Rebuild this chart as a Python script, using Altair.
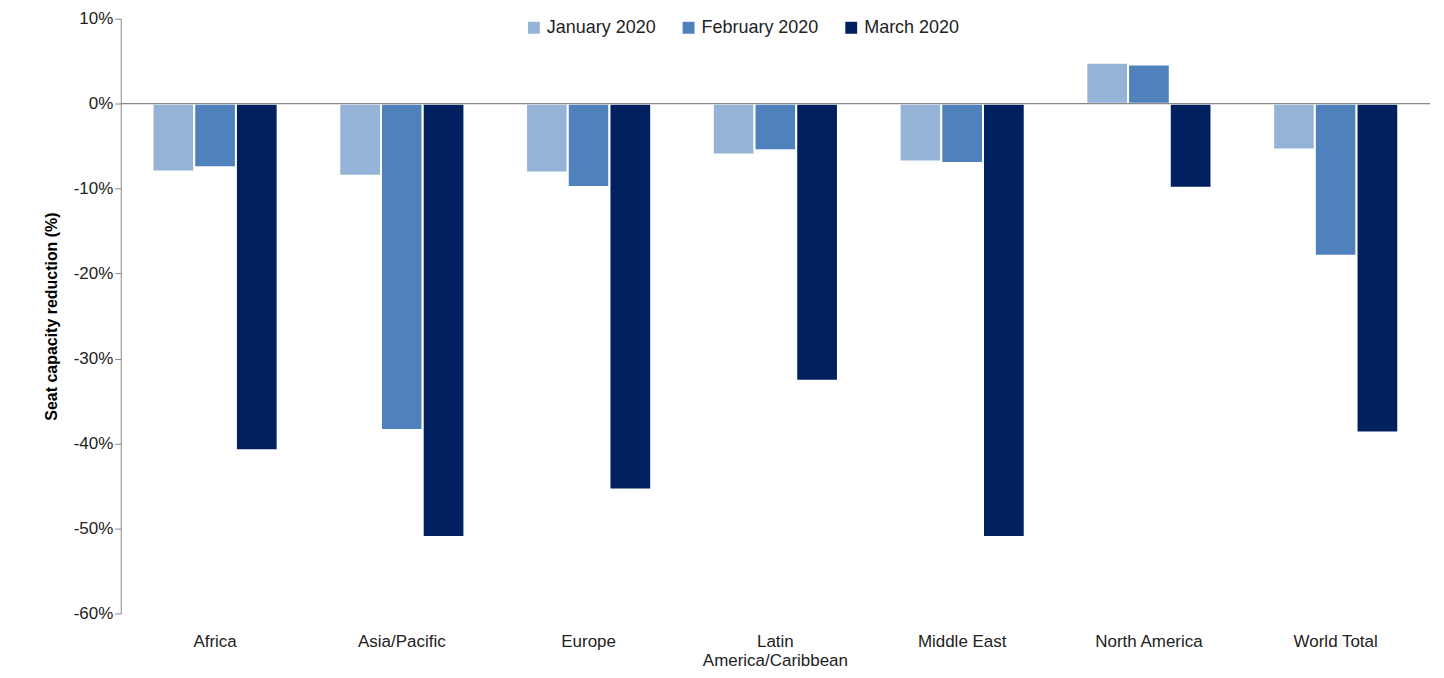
import altair as alt
import pandas as pd

regions = ["Africa", "Asia/Pacific", "Europe", "Latin America/Caribbean", "Middle East", "North America", "World Total"]
months = ["January 2020", "February 2020", "March 2020"]
jan = [-8.0, -8.5, -8.1, -6.0, -6.8, 4.8, -5.4]
feb = [-7.5, -38.4, -9.8, -5.5, -7.0, 4.6, -17.9]
mar = [-40.8, -51.0, -45.4, -32.6, -51.0, -9.9, -38.7]
colors = ["#95B3D7", "#4F81BD", "#002060"]

rows = []
for i, r in enumerate(regions):
    for m, vals in zip(months, [jan, feb, mar]):
        rows.append({"region": r, "month": m, "value": vals[i] / 100})
df = pd.DataFrame(rows)

bars = alt.Chart(df).mark_bar(stroke="white", strokeWidth=2).encode(
    x=alt.X("region:N", sort=regions, title=None,
            scale=alt.Scale(paddingInner=0.33, paddingOuter=0.17),
            axis=alt.Axis(labelAngle=0, ticks=False, domain=False, labelFontSize=17,
                          labelColor="#222", labelFont="Liberation Sans", labelPadding=20,
                          labelExpr="datum.value == 'Latin America/Caribbean' ? ['Latin', 'America/Caribbean'] : datum.value")),
    xOffset=alt.XOffset("month:N", sort=months),
    y=alt.Y("value:Q", title="Seat capacity reduction (%)",
            scale=alt.Scale(domain=[-0.6, 0.1], nice=False),
            axis=alt.Axis(values=[0.1, 0, -0.1, -0.2, -0.3, -0.4, -0.5, -0.6],
                          labelExpr="round(datum.value * 100) + '%'",
                          grid=False, labelFontSize=17, labelColor="#222", labelFont="Liberation Sans",
                          titleFontSize=16, titleFont="Liberation Sans", titleFontWeight="bold",
                          titleColor="#000", domainColor="#888", tickColor="#888", tickSize=6,
                          titlePadding=14)),
    color=alt.Color("month:N", sort=months, scale=alt.Scale(domain=months, range=colors),
                    legend=alt.Legend(title=None, orient="none", legendX=405, legendY=0,
                                      direction="horizontal", symbolType="square", symbolSize=180,
                                      labelFontSize=18, labelFont="Liberation Sans", labelColor="#222",
                                      columnPadding=22)),
)

zero = alt.Chart(pd.DataFrame({"y": [0]})).mark_rule(color="#888", strokeWidth=1.2).encode(y="y:Q")

chart = (bars + zero).properties(
    width=1312, height=596,
    padding={"left": 35, "top": 1, "right": 5, "bottom": 5},
).configure_view(stroke=None)
chart.save("out.html", embed_options={"renderer": "svg", "actions": False})
